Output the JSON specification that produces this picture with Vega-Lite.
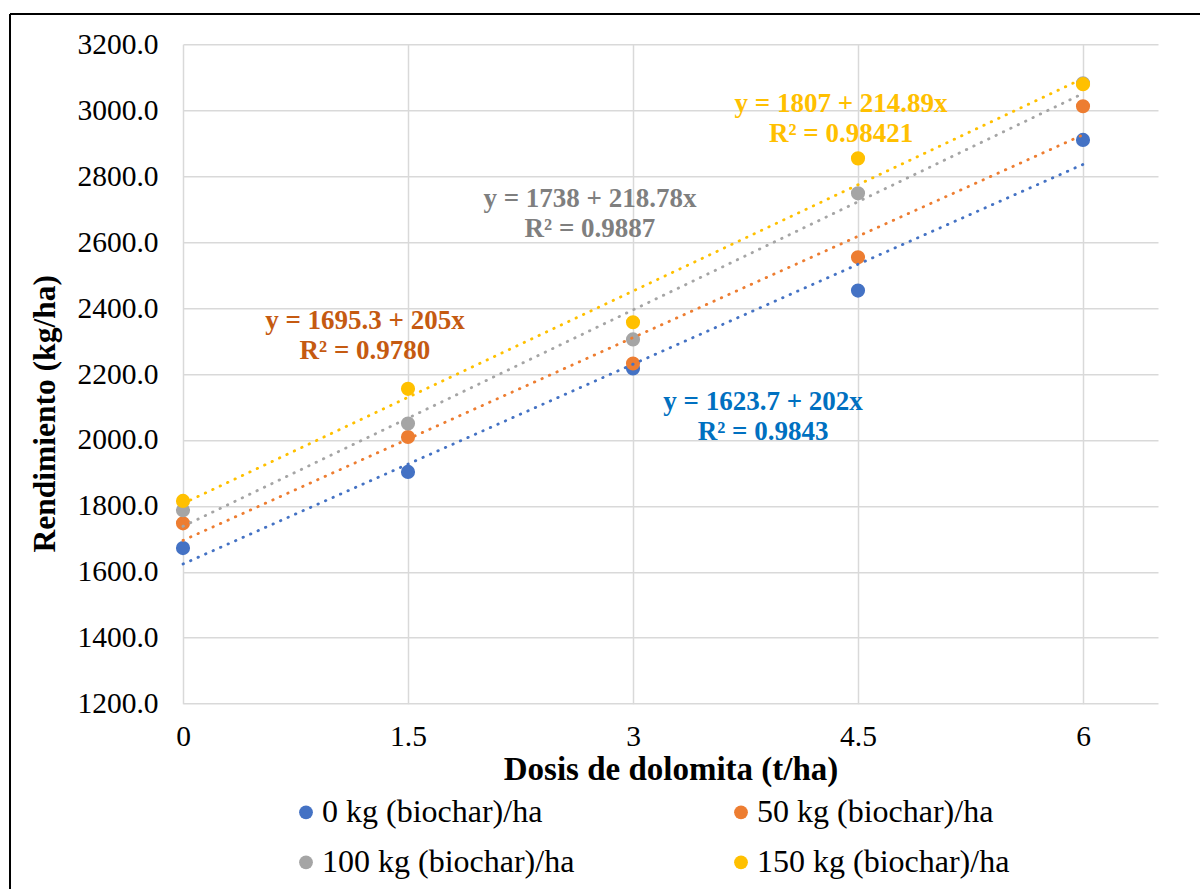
{
  "$schema": "https://vega.github.io/schema/vega-lite/v6.json",
  "autosize": "none",
  "width": 975,
  "height": 659.4,
  "padding": {"left": 183, "top": 44.3, "right": 42, "bottom": 185.3},
  "background": "white",
  "config": {
    "font": "Liberation Serif",
    "view": {"stroke": null},
    "axis": {
      "grid": true,
      "gridColor": "#D9D9D9",
      "gridWidth": 1.5,
      "domain": false,
      "ticks": false,
      "labelFont": "Liberation Serif",
      "labelFontSize": 29.5,
      "labelColor": "#000000",
      "titleFont": "Liberation Serif",
      "titleFontSize": 33,
      "titleFontWeight": "bold",
      "titleColor": "#000000"
    }
  },
  "datasets": {
    "obs": [
      {"serie": "0 kg (biochar)/ha", "dosis": 0, "rend": 1672},
      {"serie": "0 kg (biochar)/ha", "dosis": 1.5, "rend": 1903},
      {"serie": "0 kg (biochar)/ha", "dosis": 3, "rend": 2217},
      {"serie": "0 kg (biochar)/ha", "dosis": 4.5, "rend": 2453},
      {"serie": "0 kg (biochar)/ha", "dosis": 6, "rend": 2910},
      {"serie": "50 kg (biochar)/ha", "dosis": 0, "rend": 1747},
      {"serie": "50 kg (biochar)/ha", "dosis": 1.5, "rend": 2009},
      {"serie": "50 kg (biochar)/ha", "dosis": 3, "rend": 2232},
      {"serie": "50 kg (biochar)/ha", "dosis": 4.5, "rend": 2554},
      {"serie": "50 kg (biochar)/ha", "dosis": 6, "rend": 3012},
      {"serie": "100 kg (biochar)/ha", "dosis": 0, "rend": 1787},
      {"serie": "100 kg (biochar)/ha", "dosis": 1.5, "rend": 2050},
      {"serie": "100 kg (biochar)/ha", "dosis": 3, "rend": 2305},
      {"serie": "100 kg (biochar)/ha", "dosis": 4.5, "rend": 2748},
      {"serie": "100 kg (biochar)/ha", "dosis": 6, "rend": 3082},
      {"serie": "150 kg (biochar)/ha", "dosis": 0, "rend": 1815},
      {"serie": "150 kg (biochar)/ha", "dosis": 1.5, "rend": 2155},
      {"serie": "150 kg (biochar)/ha", "dosis": 3, "rend": 2357},
      {"serie": "150 kg (biochar)/ha", "dosis": 4.5, "rend": 2854},
      {"serie": "150 kg (biochar)/ha", "dosis": 6, "rend": 3079}
    ],
    "tendencia": [
      {"serie": "0 kg (biochar)/ha", "dosis": 0, "rend": 1623.7},
      {"serie": "0 kg (biochar)/ha", "dosis": 6, "rend": 2835.7},
      {"serie": "50 kg (biochar)/ha", "dosis": 0, "rend": 1695.3},
      {"serie": "50 kg (biochar)/ha", "dosis": 6, "rend": 2925.3},
      {"serie": "100 kg (biochar)/ha", "dosis": 0, "rend": 1738},
      {"serie": "100 kg (biochar)/ha", "dosis": 6, "rend": 3050.68},
      {"serie": "150 kg (biochar)/ha", "dosis": 0, "rend": 1807},
      {"serie": "150 kg (biochar)/ha", "dosis": 6, "rend": 3096.34}
    ],
    "ecuaciones": [
      {"serie": "0 kg (biochar)/ha", "dosis": 3.867, "rend": 2115, "texto": "y = 1623.7 + 202x\nR² = 0.9843"},
      {"serie": "50 kg (biochar)/ha", "dosis": 1.213, "rend": 2361, "texto": "y = 1695.3 + 205x\nR² = 0.9780"},
      {"serie": "100 kg (biochar)/ha", "dosis": 2.713, "rend": 2731, "texto": "y = 1738 + 218.78x\nR² = 0.9887"},
      {"serie": "150 kg (biochar)/ha", "dosis": 4.387, "rend": 3019, "texto": "y = 1807 + 214.89x\nR² = 0.98421"}
    ],
    "marco": [
      {"dosis": -1.1533, "rend": 3291.9}
    ]
  },
  "resolve": {"scale": {"color": "independent"}},
  "layer": [
    {
      "data": {"name": "obs"},
      "mark": {"type": "circle", "size": 200, "opacity": 1},
      "encoding": {
        "x": {
          "field": "dosis",
          "type": "quantitative",
          "scale": {"domain": [0, 6.5], "nice": false, "zero": false},
          "axis": {
            "values": [0, 1.5, 3, 4.5, 6],
            "format": "~g",
            "title": "Dosis de dolomita (t/ha)",
            "labelPadding": 19,
            "labelFlush": false,
            "titleY": 66,
            "titleBaseline": "middle",
            "titleX": 487.5
          }
        },
        "y": {
          "field": "rend",
          "type": "quantitative",
          "scale": {"domain": [1200, 3200], "nice": false, "zero": false},
          "axis": {
            "values": [1200, 1400, 1600, 1800, 2000, 2200, 2400, 2600, 2800, 3000, 3200],
            "format": ".1f",
            "title": "Rendimiento (kg/ha)",
            "titleFontSize": 31.5,
            "labelPadding": 25,
            "titleX": -138,
            "titleY": 369,
            "titleBaseline": "middle"
          }
        },
        "color": {
          "field": "serie",
          "type": "nominal",
          "sort": ["0 kg (biochar)/ha", "50 kg (biochar)/ha", "100 kg (biochar)/ha", "150 kg (biochar)/ha"],
          "scale": {
            "domain": ["0 kg (biochar)/ha", "50 kg (biochar)/ha", "100 kg (biochar)/ha", "150 kg (biochar)/ha"],
            "range": ["#4472C4", "#ED7D31", "#A5A5A5", "#FFC000"]
          },
          "legend": {
            "title": null,
            "orient": "none",
            "legendX": 107,
            "legendY": 752,
            "direction": "horizontal",
            "columns": 2,
            "columnPadding": 150,
            "rowPadding": 18,
            "symbolType": "circle",
            "symbolSize": 190,
            "symbolStrokeWidth": 0,
            "labelFont": "Liberation Serif",
            "labelFontSize": 32,
            "labelColor": "#000000",
            "labelOffset": 0,
            "labelLimit": 400
          }
        }
      }
    },
    {
      "data": {"name": "tendencia"},
      "mark": {"type": "line", "strokeWidth": 2.8, "strokeCap": "round", "strokeDash": [0.5, 7.7]},
      "encoding": {
        "x": {"field": "dosis", "type": "quantitative"},
        "y": {"field": "rend", "type": "quantitative"},
        "color": {
          "field": "serie",
          "type": "nominal",
          "scale": {
            "domain": ["0 kg (biochar)/ha", "50 kg (biochar)/ha", "100 kg (biochar)/ha", "150 kg (biochar)/ha"],
            "range": ["#4472C4", "#ED7D31", "#A5A5A5", "#FFC000"]
          },
          "legend": null
        }
      }
    },
    {
      "data": {"name": "ecuaciones"},
      "mark": {
        "type": "text",
        "font": "Liberation Serif",
        "fontWeight": "bold",
        "fontSize": 27,
        "align": "center",
        "baseline": "middle",
        "lineBreak": "\n",
        "lineHeight": 30
      },
      "encoding": {
        "x": {"field": "dosis", "type": "quantitative"},
        "y": {"field": "rend", "type": "quantitative"},
        "text": {"field": "texto"},
        "color": {
          "field": "serie",
          "type": "nominal",
          "scale": {
            "domain": ["0 kg (biochar)/ha", "50 kg (biochar)/ha", "100 kg (biochar)/ha", "150 kg (biochar)/ha"],
            "range": ["#0070C0", "#C55A11", "#7F7F7F", "#FFC000"]
          },
          "legend": null
        }
      }
    },
    {
      "data": {"name": "marco"},
      "mark": {"type": "rule", "color": "#000000", "strokeWidth": 2, "clip": false},
      "encoding": {
        "x": {"field": "dosis", "type": "quantitative"},
        "y": {"field": "rend", "type": "quantitative"},
        "y2": {"datum": 500}
      }
    },
    {
      "data": {"name": "marco"},
      "mark": {"type": "rule", "color": "#000000", "strokeWidth": 2, "clip": false},
      "encoding": {
        "x": {"field": "dosis", "type": "quantitative"},
        "x2": {"datum": 7.2},
        "y": {"field": "rend", "type": "quantitative"}
      }
    }
  ]
}
